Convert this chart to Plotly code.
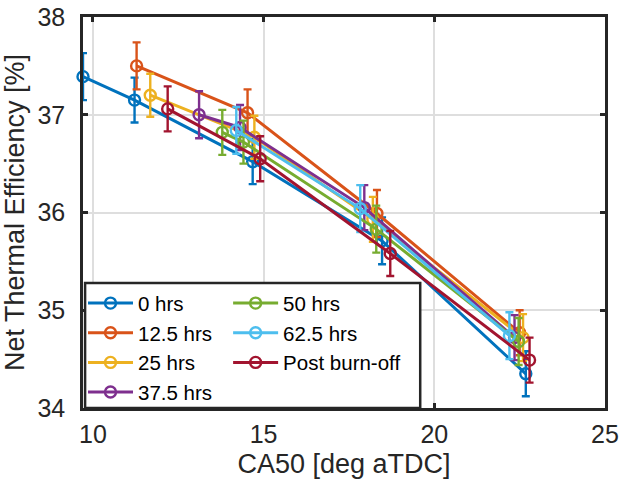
import plotly.graph_objects as go

series_names = ["0 hrs", "12.5 hrs", "25 hrs", "37.5 hrs", "50 hrs", "62.5 hrs", "Post burn-off"]
colors = ["#0072BD", "#D95319", "#EDB120", "#7E2F8E", "#77AC30", "#4DBEEE", "#A2142F"]

x_0 = [9.71, 11.22, 14.68, 18.47, 22.68]
y_0 = [37.39, 37.15, 36.52, 35.71, 34.35]
e_0 = [0.24, 0.23, 0.23, 0.24, 0.23]

x_12 = [11.28, 14.53, 18.32, 22.50]
y_12 = [37.50, 37.02, 35.99, 34.77]
e_12 = [0.24, 0.24, 0.24, 0.23]

x_25 = [11.68, 14.73, 18.20, 22.60]
y_25 = [37.20, 36.77, 35.93, 34.72]
e_25 = [0.22, 0.22, 0.23, 0.24]

x_37 = [13.11, 14.31, 17.95, 22.35]
y_37 = [37.00, 36.87, 36.05, 34.72]
e_37 = [0.24, 0.23, 0.23, 0.23]

x_50 = [13.79, 14.41, 18.30, 22.47]
y_50 = [36.82, 36.72, 35.83, 34.68]
e_50 = [0.23, 0.22, 0.24, 0.24]

x_62 = [14.20, 17.83, 22.20]
y_62 = [36.84, 36.04, 34.74]
e_62 = [0.24, 0.24, 0.24]

x_pb = [12.19, 14.90, 18.71, 22.79]
y_pb = [37.06, 36.55, 35.58, 34.49]
e_pb = [0.23, 0.23, 0.23, 0.23]

xs = [x_0, x_12, x_25, x_37, x_50, x_62, x_pb]
ys = [y_0, y_12, y_25, y_37, y_50, y_62, y_pb]
es = [e_0, e_12, e_25, e_37, e_50, e_62, e_pb]
legend_ids = ["legend", "legend", "legend", "legend", "legend2", "legend2", "legend2"]

x_ticks = [10, 15, 20, 25]
y_ticks = [34, 35, 36, 37, 38]

FONT = "Liberation Sans, Arial, sans-serif"
TXT = "#262626"
LEG_FONT = 20.5

fig = go.Figure()
for name, c, x, y, e, lg in zip(series_names, colors, xs, ys, es, legend_ids):
    fig.add_trace(go.Scatter(
        x=x, y=y, name=name, mode="lines+markers",
        line=dict(color=c, width=3),
        marker=dict(symbol="circle-open", size=11, color=c, line=dict(width=2.4, color=c)),
        error_y=dict(type="data", array=e, visible=True, color=c, thickness=2.4, width=4),
        cliponaxis=False, legend=lg,
    ))

# legend frame
fig.add_shape(type="rect", xref="paper", yref="paper",
              x0=0.004, x1=0.646, y0=0.0, y1=0.32,
              fillcolor="white", line=dict(color=TXT, width=2.5), layer="above")

leg_common = dict(
    orientation="v", xanchor="left", yanchor="top",
    bgcolor="rgba(0,0,0,0)", borderwidth=0,
    font=dict(family=FONT, size=LEG_FONT, color="black"),
    traceorder="normal", itemwidth=45,
)
fig.update_layout(
    width=621, height=484,
    margin=dict(l=83, r=16, t=17, b=76, autoexpand=False),
    paper_bgcolor="white", plot_bgcolor="white",
    font=dict(family=FONT, color=TXT, size=25),
    showlegend=True,
    legend=dict(x=0.0, y=0.319, **leg_common),
    legend2=dict(x=0.278, y=0.319, **leg_common),
)
axis_common = dict(
    showgrid=True, gridcolor="#dedede", gridwidth=2,
    showline=True, linecolor=TXT, linewidth=2.5, mirror="ticks",
    ticks="inside", ticklen=5, tickwidth=2.5, tickcolor=TXT,
    zeroline=False, automargin=False,
    tickfont=dict(family=FONT, size=25, color=TXT),
)
fig.update_xaxes(range=[9.71, 25], tickvals=x_ticks, ticktext=[str(v) for v in x_ticks],
                 title=dict(text="CA50 [deg aTDC]", font=dict(family=FONT, size=27, color=TXT), standoff=8),
                 ticklabelstandoff=2, **axis_common)
fig.update_yaxes(range=[34, 38], tickvals=y_ticks, ticktext=[str(v) for v in y_ticks],
                 title=dict(text="Net Thermal Efficiency [%]", font=dict(family=FONT, size=27, color=TXT), standoff=5),
                 ticklabelstandoff=10, **axis_common)

fig.write_html("out.html")
